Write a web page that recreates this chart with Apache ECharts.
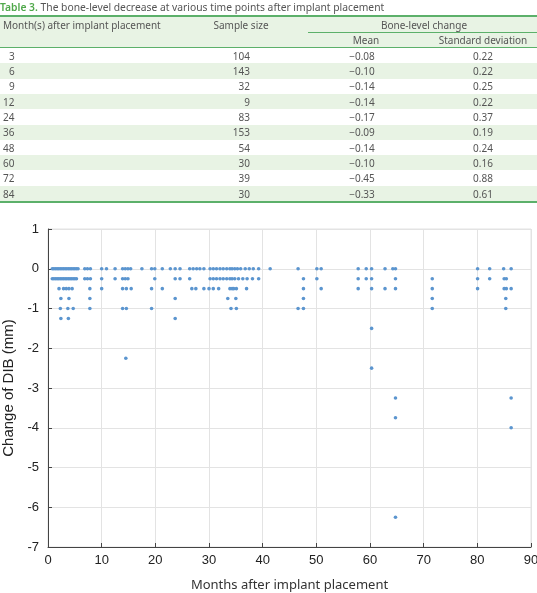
<!DOCTYPE html>
<html><head><meta charset="utf-8">
<script src="https://cdn.jsdelivr.net/npm/echarts@6/dist/echarts.min.js"></script>
<style>
html,body{margin:0;padding:0;background:#fff;}
#wrap{position:relative;width:537px;height:593px;overflow:hidden;}
#chart{position:absolute;left:0;top:0;width:537px;height:593px;}
#tbl{position:absolute;left:0;top:0;width:537px;height:205px;font-family:"Noto Sans","Open Sans",sans-serif;font-size:10px;color:#555;}
.t{position:absolute;white-space:nowrap;line-height:12px;}
.bg{position:absolute;left:0;width:537px;}
.ln{position:absolute;}
</style></head>
<body><div id="wrap"><div id="chart"></div><div id="tbl"></div></div>
<script>
// ---- table data ----
var tableMonths = ["3","6","9","12","24","36","48","60","72","84"];
var tableSample = ["104","143","32","9","83","153","54","30","39","30"];
var tableMean = ["\u22120.08","\u22120.10","\u22120.14","\u22120.14","\u22120.17","\u22120.09","\u22120.14","\u22120.10","\u22120.45","\u22120.33"];
var tableSD = ["0.22","0.22","0.25","0.22","0.37","0.19","0.24","0.16","0.88","0.61"];

// ---- scatter data: months after placement, grouped by change of DIB (mm) ----
var monthsAt0 = [0.8,1.1,1.4,1.7,2.0,2.3,2.6,2.9,3.2,3.5,3.8,4.1,4.4,4.7,5.0,5.3,5.6,6.85,7.35,7.9,10.0,10.9,12.5,13.9,14.4,14.9,15.4,17.5,19.3,19.9,21.3,22.8,23.7,24.6,26.4,27.05,27.7,28.3,29.05,30.2,30.8,31.4,32.05,32.65,33.3,33.9,34.3,34.8,35.3,35.9,36.75,37.5,38.25,39.25,41.4,46.6,50.1,50.9,57.8,59.3,60.3,62.8,64.25,64.75,80.05,82.3,84.9,86.3];
var monthsAtM025 = [0.8,1.1,1.4,1.7,2.0,2.3,2.6,2.9,3.2,3.5,3.8,4.1,4.4,4.7,5.0,5.3,6.85,7.35,7.9,10.0,12.5,13.9,14.4,14.9,19.9,23.7,24.6,26.4,30.2,30.8,31.4,32.05,32.65,33.3,33.9,34.3,34.8,35.5,36.3,37.1,38.1,39.25,47.6,50.1,57.8,59.3,60.3,64.75,71.6,80.05,82.3,85.0,85.4];
var monthsAtM050 = [2.05,2.9,3.4,3.9,4.5,7.8,10.0,13.9,14.6,15.5,19.3,21.3,26.8,27.55,29.05,30.0,30.8,31.8,33.9,34.3,34.6,35.1,37.0,47.6,50.9,57.8,60.3,62.8,64.75,71.6,80.05,85.0,85.4,86.3];
var monthsAtM075 = [2.4,3.9,7.8,23.7,33.5,35.0,47.6,71.6,85.3];
var monthsAtM100 = [2.3,3.7,4.7,7.8,13.9,14.6,19.3,34.1,35.1,46.6,47.6,71.6,85.3];
var monthsAtM125 = [2.4,3.8,23.7];
var otherMonths = [14.5,60.3,60.3,64.75,64.75,64.75,86.3,86.3];
var otherChanges = [-2.25,-1.5,-2.5,-3.25,-3.75,-6.25,-3.25,-4.0];

var xTicks = {min:0,max:90,interval:10};
var yTicks = {min:-7,max:1,interval:1};

// build points
var pts = [];
function add(arr,v){arr.forEach(function(m){pts.push([m,v]);});}
add(monthsAt0,0);add(monthsAtM025,-0.25);add(monthsAtM050,-0.5);
add(monthsAtM075,-0.75);add(monthsAtM100,-1);add(monthsAtM125,-1.25);
otherMonths.forEach(function(m,i){pts.push([m,otherChanges[i]]);});

// ---- build table ----
var tbl = document.getElementById('tbl');
var GREEN='#5cb06a', LIGHT='#e8f3e4';
function el(cls,style,html){var d=document.createElement('div');d.className=cls;d.setAttribute('style',style);if(html!==undefined)d.innerHTML=html;tbl.appendChild(d);return d;}
el('t','left:0;top:1px;font-size:10.3px;color:#555;','<span style="color:#4fa84a;font-weight:600">Table 3.</span> The bone-level decrease at various time points after implant placement');
el('bg','top:16px;height:31px;background:'+LIGHT+';');
el('ln','left:0;top:15px;width:537px;height:1.5px;background:'+GREEN+';');
el('ln','left:308px;top:32px;width:229px;height:1px;background:'+GREEN+';');
el('ln','left:0;top:47px;width:537px;height:1px;background:'+GREEN+';');
el('t','left:3px;top:19px;','Month(s) after implant placement');
el('t','left:241px;top:19px;transform:translateX(-50%);','Sample size');
el('t','left:424px;top:19px;transform:translateX(-50%);','Bone-level change');
el('t','left:366px;top:34px;transform:translateX(-50%);','Mean');
el('t','left:483px;top:34px;transform:translateX(-50%);','Standard deviation');
var rowH=15.3, row0=48;
tableMonths.forEach(function(m,i){
  var top=row0+i*rowH;
  if(i%2===1) el('bg','top:'+top+'px;height:'+rowH+'px;background:'+LIGHT+';');
  var ty=top+1.8;
  el('t','left:'+(m.length===1?9:3)+'px;top:'+ty+'px;',m);
  el('t','right:'+(537-250)+'px;top:'+ty+'px;',tableSample[i]);
  el('t','left:362px;top:'+ty+'px;transform:translateX(-50%);',tableMean[i]);
  el('t','left:483px;top:'+ty+'px;transform:translateX(-50%);',tableSD[i]);
});
el('ln','left:0;top:'+(row0+10*rowH)+'px;width:537px;height:1.5px;background:'+GREEN+';');

// ---- chart ----
var chart = echarts.init(document.getElementById('chart'),null,{renderer:'canvas'});
var axisLab = {fontFamily:'"Liberation Sans",Arial,sans-serif',fontSize:13,color:'#222'};
chart.setOption({
  animation:false,
  grid:{left:48,top:229,width:483,height:318,show:true,borderColor:'#e3e3e3',borderWidth:1,
    containLabel:false,outerBoundsMode:'none'},
  xAxis:{type:'value',min:xTicks.min,max:xTicks.max,interval:xTicks.interval,
    name:'Months after implant placement',nameLocation:'middle',nameGap:32,
    nameTextStyle:{fontFamily:'"Noto Sans","Open Sans",sans-serif',fontSize:13,color:'#333'},
    axisLine:{onZero:false,lineStyle:{color:'#444',width:1}},
    axisTick:{inside:true,length:4,lineStyle:{color:'#444'}},
    axisLabel:Object.assign({margin:7},axisLab),
    splitLine:{show:true,lineStyle:{color:'#e3e3e3',width:1}}},
  yAxis:{type:'value',min:yTicks.min,max:yTicks.max,interval:yTicks.interval,
    name:'Change of DIB (mm)',nameLocation:'middle',nameGap:26,
    nameTextStyle:{fontFamily:'"Liberation Sans",Arial,sans-serif',fontSize:15,color:'#222'},
    axisLine:{show:true,onZero:false,lineStyle:{color:'#444',width:1}},
    axisTick:{show:true,inside:true,length:4,lineStyle:{color:'#444'}},
    axisLabel:Object.assign({margin:9},axisLab),
    splitLine:{show:true,lineStyle:{color:'#e3e3e3',width:1}}},
  series:[{type:'scatter',data:pts,symbolSize:3.6,
    itemStyle:{color:'#5b95cf',opacity:1}}]
});
</script></body></html>
